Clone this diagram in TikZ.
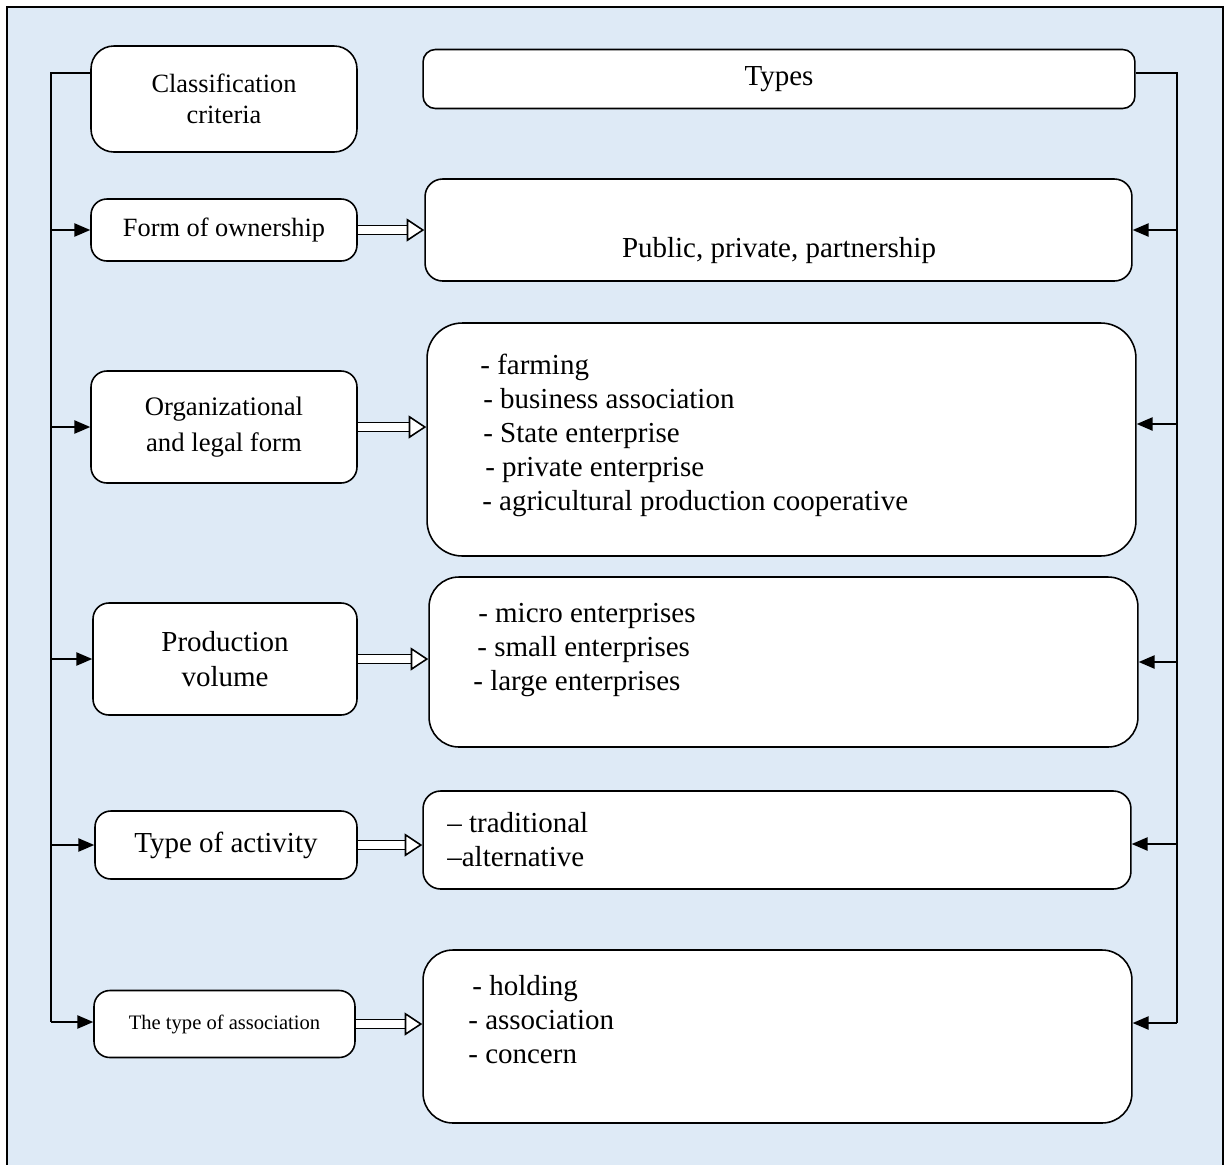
\documentclass[tikz,border=0pt]{standalone}
\usepackage{fontspec}
\setmainfont{Liberation Serif}
\usetikzlibrary{arrows.meta,positioning}
\definecolor{sheet}{HTML}{DEEAF6}
\tikzset{
  crit/.style={draw=black,fill=white,line width=0.9pt,rounded corners=9pt,
               align=center,inner sep=0pt,font=\fontsize{16.5}{20.4}\selectfont},
  kind/.style={draw=black,fill=white,line width=0.9pt,rounded corners=10pt,
               inner sep=0pt},
  items/.style={anchor=base west,align=left,inner sep=0pt,
                font=\fontsize{16.5}{19.3}\selectfont},
  trunk/.style={line width=0.9pt},
  feedarr/.style={-{Triangle[length=9pt,width=7.5pt]},line width=0.9pt},
  linkarr/.style={-{Triangle[length=10pt,width=13pt,fill=white,line width=0.9pt]},
                  double=white,double distance=4.4pt,line width=0.9pt}
}
\begin{document}
\begin{tikzpicture}[x=0.02cm,y=-0.02cm]
  \path[use as bounding box] (0,0) rectangle (1228,1164);
  \draw[line width=1.1pt,fill=sheet] (7,7) rectangle (1223,1190);

  % criteria (left column)
  \node[crit,minimum width=5.32cm,minimum height=2.12cm,rounded corners=13pt,
        font=\fontsize{15}{17.6}\selectfont] (crit) at (224,99)
    {Classification\\criteria};
  \node[crit,minimum width=5.32cm,minimum height=1.24cm,
        font=\fontsize{15}{17.6}\selectfont] (own) at (224,230)
    {Form of ownership};
  \node[crit,minimum width=5.32cm,minimum height=2.24cm,
        font=\fontsize{15.2}{20.4}\selectfont] (org) at (224,427)
    {Organizational\\and legal form};
  \node[crit,minimum width=5.28cm,minimum height=2.24cm] (prod) at (225,659)
    {Production\\volume};
  \node[crit,minimum width=5.24cm,minimum height=1.36cm] (act) at (226,845)
    {Type of activity};
  \node[crit,minimum width=5.22cm,minimum height=1.34cm,
        font=\fontsize{11.7}{14}\selectfont] (assoc) at (224.5,1024)
    {The type of association};

  % types (right column)
  \node[kind,minimum width=14.24cm,minimum height=1.18cm,rounded corners=7pt,
        font=\fontsize{16.5}{19.3}\selectfont] (types) at (779,79) {Types};
  \node[kind,minimum width=14.14cm,minimum height=2.04cm] (pub) at (778.5,230) {};
  \node[kind,minimum width=14.18cm,minimum height=4.66cm,rounded corners=20pt]
    (lst2) at (781.5,439.5) {};
  \node[kind,minimum width=14.18cm,minimum height=3.4cm,rounded corners=17pt]
    (lst3) at (783.5,662) {};
  \node[kind,minimum width=14.16cm,minimum height=1.96cm] (lst4) at (777,840) {};
  \node[kind,minimum width=14.18cm,minimum height=3.46cm,rounded corners=17pt]
    (lst5) at (777.5,1036.5) {};

  % item texts (placed by the baseline of their last line)
  \node[items,anchor=base] (pubtxt) at (779,257) {Public, private, partnership};
  \node[items] (lst2txt) at (480,510)
    {- farming\\\hspace*{1.7pt}- business association\\
     \hspace*{1.7pt}- State enterprise\\\hspace*{2.8pt}- private enterprise\\
     \hspace*{1.1pt}- agricultural production cooperative};
  \node[items] (lst3txt) at (473,690)
    {\hspace*{2.8pt}- micro enterprises\\\hspace*{2.3pt}- small enterprises\\
     - large enterprises};
  \node[items] (lst4txt) at (447,866) {-- traditional\\--alternative};
  \node[items] (lst5txt) at (468,1063)
    {\hspace*{2.3pt}- holding\\- association\\- concern};

  % trunks
  \coordinate (ltop) at (51,73);
  \coordinate (lbot) at (51,1022);
  \coordinate (rtop) at (1177,73);
  \coordinate (rbot) at (1177,1023);
  \coordinate (r2) at (1177,424);
  \coordinate (r4) at (1177,844);
  \draw[trunk] (crit.west |- ltop) -- (ltop) -- (lbot);
  \draw[trunk] (types.east |- rtop) -- (rtop) -- (rbot);

  \foreach \n in {own,org,prod,act}
    \draw[feedarr] (ltop |- \n.west) -- (\n.west);
  \draw[feedarr] (lbot) -- (lbot -| assoc.west);

  \draw[feedarr] (rtop |- pub.east) -- (pub.east);
  \draw[feedarr] (r2) -- (r2 -| lst2.east);
  \draw[feedarr] (rtop |- lst3.east) -- (lst3.east);
  \draw[feedarr] (r4) -- (r4 -| lst4.east);
  \draw[feedarr] (rbot) -- (rbot -| lst5.east);

  % criteria to types
  \draw[linkarr] (own.east) -- (own.east -| pub.west);
  \draw[linkarr] (org.east) -- (org.east -| lst2.west);
  \draw[linkarr] (prod.east) -- (prod.east -| lst3.west);
  \draw[linkarr] (act.east) -- (act.east -| lst4.west);
  \draw[linkarr] (assoc.east) -- (assoc.east -| lst5.west);
\end{tikzpicture}
\end{document}
